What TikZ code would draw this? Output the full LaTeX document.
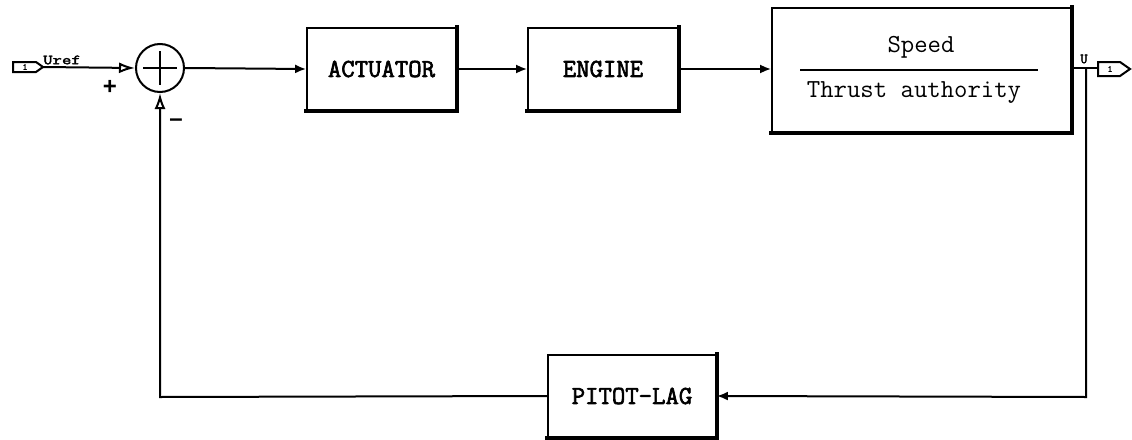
\documentclass[tikz,border=0pt]{standalone}
\usepackage{fontspec}
\newfontfamily\sansf{Liberation Sans}
\newfontfamily\tbold[FakeBold=2.5]{Latin Modern Mono}
\newfontfamily\tmono{Latin Modern Mono}
\usetikzlibrary{arrows.meta,calc}
\begin{document}
\begin{tikzpicture}[x=1pt,y=-1pt,
  blk/.style={draw,line width=1.8pt,inner sep=0pt,font=\tbold\fontsize{26}{26}\selectfont},
  shadowline/.style={line width=4.5pt,line cap=rect},
  wire/.style={line width=2pt},
  fwd/.style={wire,-{Latex[length=11pt,width=9pt]}},
  sumin/.style={wire,-{Latex[open,length=16pt,width=11pt,line width=2pt]}},
  lbl/.style={inner sep=0pt,font=\tbold\fontsize{14}{14}\selectfont},
  sgn/.style={inner sep=0pt,font=\sansf\bfseries\fontsize{24}{24}\selectfont}]
\useasboundingbox (0,0) rectangle (1132,439);
% input port
\draw[line width=2pt] (13,62) -- (36,62) -- (43,67) -- (36,72) -- (13,72) -- cycle;
\node[inner sep=0pt,font=\tbold\fontsize{9}{9}\selectfont] (inlab) at (25,67) {1};
\coordinate (inp) at (43,67);
\node[lbl,xscale=1.3] (uref) at (62,60) {Uref};
% summing junction
\node[draw,circle,line width=2pt,minimum size=48pt,inner sep=0pt] (sum) at (160,68) {};
\draw[line width=2pt] ($(sum.center)+(-17,0)$) -- ($(sum.center)+(17,0)$);
\draw[line width=2pt] ($(sum.center)+(0,-17)$) -- ($(sum.center)+(0,17)$);
\node[sgn] (plus) at (110,87) {+};
\node[sgn] (minus) at (176,123) {\textendash};
% blocks
\node[blk,minimum width=149pt,minimum height=82pt] (act) at (381.5,69) {ACTUATOR};
\node[blk,minimum width=150pt,minimum height=82pt] (eng) at (603,69) {ENGINE};
\node[blk,minimum width=299pt,minimum height=124pt] (spd) at (921.5,70) {};
\node[blk,minimum width=168pt,minimum height=82pt] (pit) at (632,396) {PITOT-LAG};
\foreach \b in {act,eng,spd,pit}{
  \draw[shadowline] (\b.north east) -- (\b.south east) -- (\b.south west);
}
\node[inner sep=0pt,font=\tmono\fontsize{26}{26}\selectfont] (spdnum) at (921,47) {Speed};
\node[inner sep=0pt,font=\tmono\fontsize{26}{26}\selectfont] (spdden) at (914,93) {Thrust authority};
\draw[line width=2pt] (800,70) -- (1038,70);
% output port
\draw[line width=2pt] (1098,62) -- (1120,62) -- (1130,69) -- (1120,76) -- (1098,76) -- cycle;
\node[inner sep=0pt,font=\tbold\fontsize{9}{9}\selectfont] (outlab) at (1110,69) {1};
\coordinate (outp) at (1098,68);
\coordinate (br) at (1086,68);
\node[lbl] (ulab) at (1084,59) {U};
\coordinate (fbr) at (1086,397);
\coordinate (fbl) at (160,397);
% connectors
\draw[sumin] (inp) -- (sum.west);
\draw[fwd] (sum.east) -- (act.west);
\draw[fwd] (act.east) -- (eng.west);
\draw[fwd] (eng.east) -- (spd.west |- eng.east);
\draw[wire] (spd.east |- br) -- (outp);
\draw[fwd] (br) -- (fbr) -- (pit.east);
\draw[sumin] (pit.west) -- (fbl) -- (sum.south);
\end{tikzpicture}
\end{document}
